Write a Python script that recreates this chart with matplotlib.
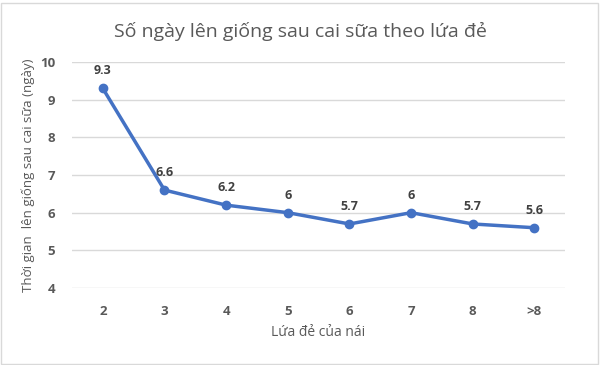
import matplotlib.pyplot as plt
import numpy as np

plt.rcParams['font.family'] = ['Open Sans', 'DejaVu Sans']

litters = ["2", "3", "4", "5", "6", "7", "8", ">8"]
days = [9.3, 6.6, 6.2, 6, 5.7, 6, 5.7, 5.6]
day_labels = ["9.3", "6.6", "6.2", "6", "5.7", "6", "5.7", "5.6"]

fig = plt.figure(figsize=(6, 3.65), dpi=100)
ax = fig.add_axes([0.12, 0.211, 0.822, 0.619])

x = np.arange(len(litters))
ax.plot(x, days, color="#4472C4", linewidth=2.5, marker="o", markersize=6)
for xi, yi, lab in zip(x, days, day_labels):
    ax.annotate(lab, (xi, yi), xytext=(0, 8), textcoords="offset points",
                ha="center", va="bottom", fontsize=9, fontweight="bold", color="#404040")

ax.set_xlim(-0.5, len(litters) - 0.5)
ax.set_ylim(4, 10)
ax.set_yticks(range(4, 11))
ax.set_xticks(x)
ax.set_xticklabels(litters)
ax.grid(axis="y", color="#d9d9d9", linewidth=1)
ax.set_axisbelow(True)
for s in ax.spines.values():
    s.set_visible(False)
ax.tick_params(length=0, labelsize=9.5, labelcolor="#595959", pad=12)
for t in ax.get_xticklabels() + ax.get_yticklabels():
    t.set_fontweight("bold")

ax.set_xlabel("Lứa đẻ của nái", fontsize=10, color="#595959", labelpad=5)
ax.set_ylabel("Thời gian  lên giống sau cai sữa (ngày)", fontsize=9.5, color="#595959", labelpad=4)
fig.suptitle("Số ngày lên giống sau cai sữa theo lứa đẻ", fontsize=14, color="#595959", y=0.94)

fig.patches.append(plt.Rectangle((0.002, 0.003), 0.995, 0.99, transform=fig.transFigure,
                                 fill=False, edgecolor="#d9d9d9", linewidth=1))
fig.savefig("out.png", dpi=100)
